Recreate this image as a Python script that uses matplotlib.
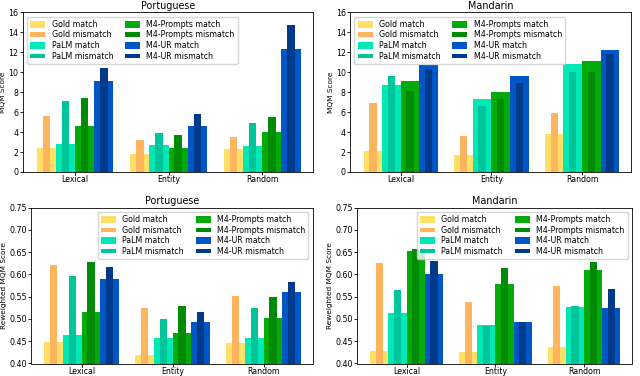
import numpy as np
import matplotlib
matplotlib.use("Agg")
import matplotlib.pyplot as plt
from matplotlib.patches import Rectangle
from matplotlib.legend_handler import HandlerPatch

categories = ["Lexical", "Entity", "Random"]
systems = ["Gold", "PaLM", "M4-Prompts", "M4-UR"]

# MQM score, [system][category]
pt_mqm_match = [[2.37, 1.80, 2.30], [2.80, 2.74, 2.60], [4.64, 2.44, 4.00], [9.08, 4.60, 12.36]]
pt_mqm_mismatch = [[5.61, 3.20, 3.47], [7.15, 3.87, 4.90], [7.38, 3.67, 5.54], [10.39, 5.80, 14.73]]
zh_mqm_match = [[2.14, 1.74, 3.81], [8.75, 7.28, 10.82], [9.12, 8.02, 11.12], [10.69, 9.62, 12.22]]
zh_mqm_mismatch = [[6.91, 3.60, 5.95], [9.59, 6.61, 10.05], [8.08, 7.28, 10.05], [10.32, 8.92, 11.79]]

# reweighted MQM score
pt_rw_match = [[0.449, 0.419, 0.446], [0.463, 0.457, 0.457], [0.515, 0.468, 0.501], [0.589, 0.493, 0.560]]
pt_rw_mismatch = [[0.621, 0.524, 0.552], [0.597, 0.500, 0.524], [0.628, 0.528, 0.550], [0.616, 0.515, 0.583]]
zh_rw_match = [[0.428, 0.425, 0.437], [0.514, 0.487, 0.527], [0.652, 0.578, 0.609], [0.600, 0.492, 0.525]]
zh_rw_mismatch = [[0.625, 0.539, 0.575], [0.565, 0.484, 0.530], [0.656, 0.614, 0.627], [0.629, 0.493, 0.568]]

match_colors = ["#ffdf66", "#00e8b6", "#03aa0a", "#0056c4"]
mismatch_colors = ["#ffb55e", "#00c49a", "#008a06", "#003a8a"]

FS = 5.7


def small_patch(legend, orig_handle, xdescent, ydescent, width, height, fontsize):
    h = height * 0.62
    return Rectangle((-xdescent, -ydescent + (height - h) / 2), width, h)


def draw(ax, match, mismatch, title, ylabel, ylim, yticks, fmt, loc):
    x = np.arange(len(categories))
    w = 0.205
    handles = []
    hmap = {}
    for i, s in enumerate(systems):
        pos = x + (i - 1.5) * w
        b1 = ax.bar(pos, np.array(match[i]) - ylim[0], w, bottom=ylim[0],
                    color=match_colors[i])
        b2 = ax.bar(pos, np.array(mismatch[i]) - ylim[0], 0.08, bottom=ylim[0],
                    color=mismatch_colors[i])
        h1, h2 = b1.patches[0], b2.patches[0]
        handles += [h1, h2]
        hmap[h2] = HandlerPatch(patch_func=small_patch)
    ax.set_xlim(-0.56, 2.54)
    ax.set_ylim(*ylim)
    ax.set_yticks(yticks)
    ax.set_yticklabels([fmt.format(v) for v in yticks], fontsize=FS)
    ax.set_xticks(x)
    ax.set_xticklabels(categories, fontsize=FS)
    ax.set_title(title, fontsize=6.9, pad=2.5)
    ax.set_ylabel(ylabel, fontsize=FS - 0.4, labelpad=1.5)
    ax.tick_params(length=2, width=0.6, pad=1)
    ax.tick_params(axis="x", pad=0.5)
    for sp in ax.spines.values():
        sp.set_linewidth(0.6)
    ax.legend(handles=handles,
              labels=[f"{s} {k}" for s in systems for k in ("match", "mismatch")],
              ncol=2, loc=loc, fontsize=FS, frameon=True,
              handler_map=hmap, handlelength=1.9, handleheight=1.0,
              labelspacing=0.2, columnspacing=1.5, handletextpad=0.8,
              borderpad=0.4, borderaxespad=0.55)


fig = plt.figure(figsize=(6.4, 3.76), dpi=100)
W, H = 640, 376


def axes_px(l, t, r, b):
    return fig.add_axes([l / W, 1 - b / H, (r - l) / W, (b - t) / H])


ax1 = axes_px(22.7, 12.3, 312.7, 172)
ax2 = axes_px(350, 12.3, 631, 172)
ax3 = axes_px(30.7, 207.5, 312.7, 363.5)
ax4 = axes_px(357, 207.5, 632, 363.5)

mqm_ticks = list(range(0, 17, 2))
rw_ticks = [0.40, 0.45, 0.50, 0.55, 0.60, 0.65, 0.70, 0.75]

draw(ax1, pt_mqm_match, pt_mqm_mismatch, "Portuguese", "MQM Score", (0, 16), mqm_ticks, "{:d}", "upper left")
draw(ax2, zh_mqm_match, zh_mqm_mismatch, "Mandarin", "MQM Score", (0, 16), mqm_ticks, "{:d}", "upper left")
draw(ax3, pt_rw_match, pt_rw_mismatch, "Portuguese", "Reweighted MQM Score", (0.40, 0.75), rw_ticks, "{:.2f}", "upper right")
draw(ax4, zh_rw_match, zh_rw_mismatch, "Mandarin", "Reweighted MQM Score", (0.40, 0.75), rw_ticks, "{:.2f}", "upper right")

fig.savefig("out.png", dpi=100)
